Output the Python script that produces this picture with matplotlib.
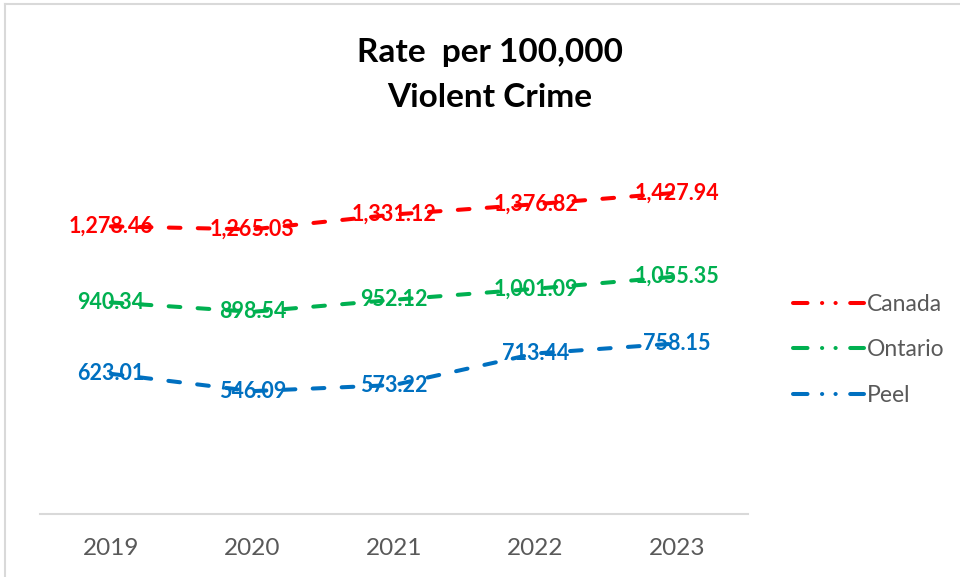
import matplotlib
matplotlib.use("Agg")
import matplotlib.pyplot as plt
from matplotlib.lines import Line2D

years = ["2019", "2020", "2021", "2022", "2023"]
canada = [1278.46, 1265.03, 1331.12, 1376.82, 1427.94]
ontario = [940.34, 898.54, 952.12, 1001.09, 1055.35]
peel = [623.01, 546.09, 573.22, 713.44, 758.15]
series_names = ["Canada", "Ontario", "Peel"]
colors = ["#FF0000", "#00B050", "#0070C0"]
title = "Rate  per 100,000\nViolent Crime"

FONT = ["Lato", "DejaVu Sans"]
plt.rcParams["font.family"] = FONT

fig = plt.figure(figsize=(9.6, 5.77), dpi=100)
ax = fig.add_axes([40/960, 1-514/577, 708/960, 360/577])
x = list(range(len(years)))

LW = 2.9
handles = []
for vals, name, c in zip([canada, ontario, peel], series_names, colors):
    ax.plot(x, vals, color=c, lw=LW, dashes=(2.9, 4.3), dash_capstyle="round",
            solid_capstyle="round", zorder=2)
    for xi, v in zip(x, vals):
        ax.text(xi, v, f"{v:,.2f}", color=c, fontsize=15.5, fontweight="bold",
                ha="center", va="center", zorder=3)
    handles.append(Line2D([0], [0], color=c, lw=LW,
                          dashes=(3.6, 3.6, 0.05, 3.3, 0.05, 3.6, 3.6, 0),
                          dash_capstyle="round"))

ax.set_xlim(-0.5, 4.5)
ax.set_ylim(0, 1600)
ax.set_xticks(x)
ax.set_xticklabels(years, fontsize=17.5, color="#595959")
ax.tick_params(axis="x", length=0, pad=17)
ax.set_yticks([])
for s in ["top", "right", "left"]:
    ax.spines[s].set_visible(False)
ax.spines["bottom"].set_color("#D9D9D9")
ax.spines["bottom"].set_linewidth(1.5)

fig.text(490/960, 1-75/577, title, ha="center", va="center", fontsize=24,
         fontweight="bold", color="black", linespacing=1.65)

leg = fig.legend(handles, series_names, loc="center left",
                 bbox_to_anchor=(772/960, 1-350/577), frameon=False,
                 fontsize=16.5, labelcolor="#595959", handlelength=3.1,
                 handletextpad=0.15, labelspacing=1.05)

# figure border (top and left visible)
fig.add_artist(Line2D([5/960, 1], [1-4/577, 1-4/577], color="#D9D9D9", lw=1.5,
                      transform=fig.transFigure))
fig.add_artist(Line2D([5/960, 5/960], [0, 1-4/577], color="#D9D9D9", lw=1.5,
                      transform=fig.transFigure))

fig.savefig("out.png", dpi=100)
